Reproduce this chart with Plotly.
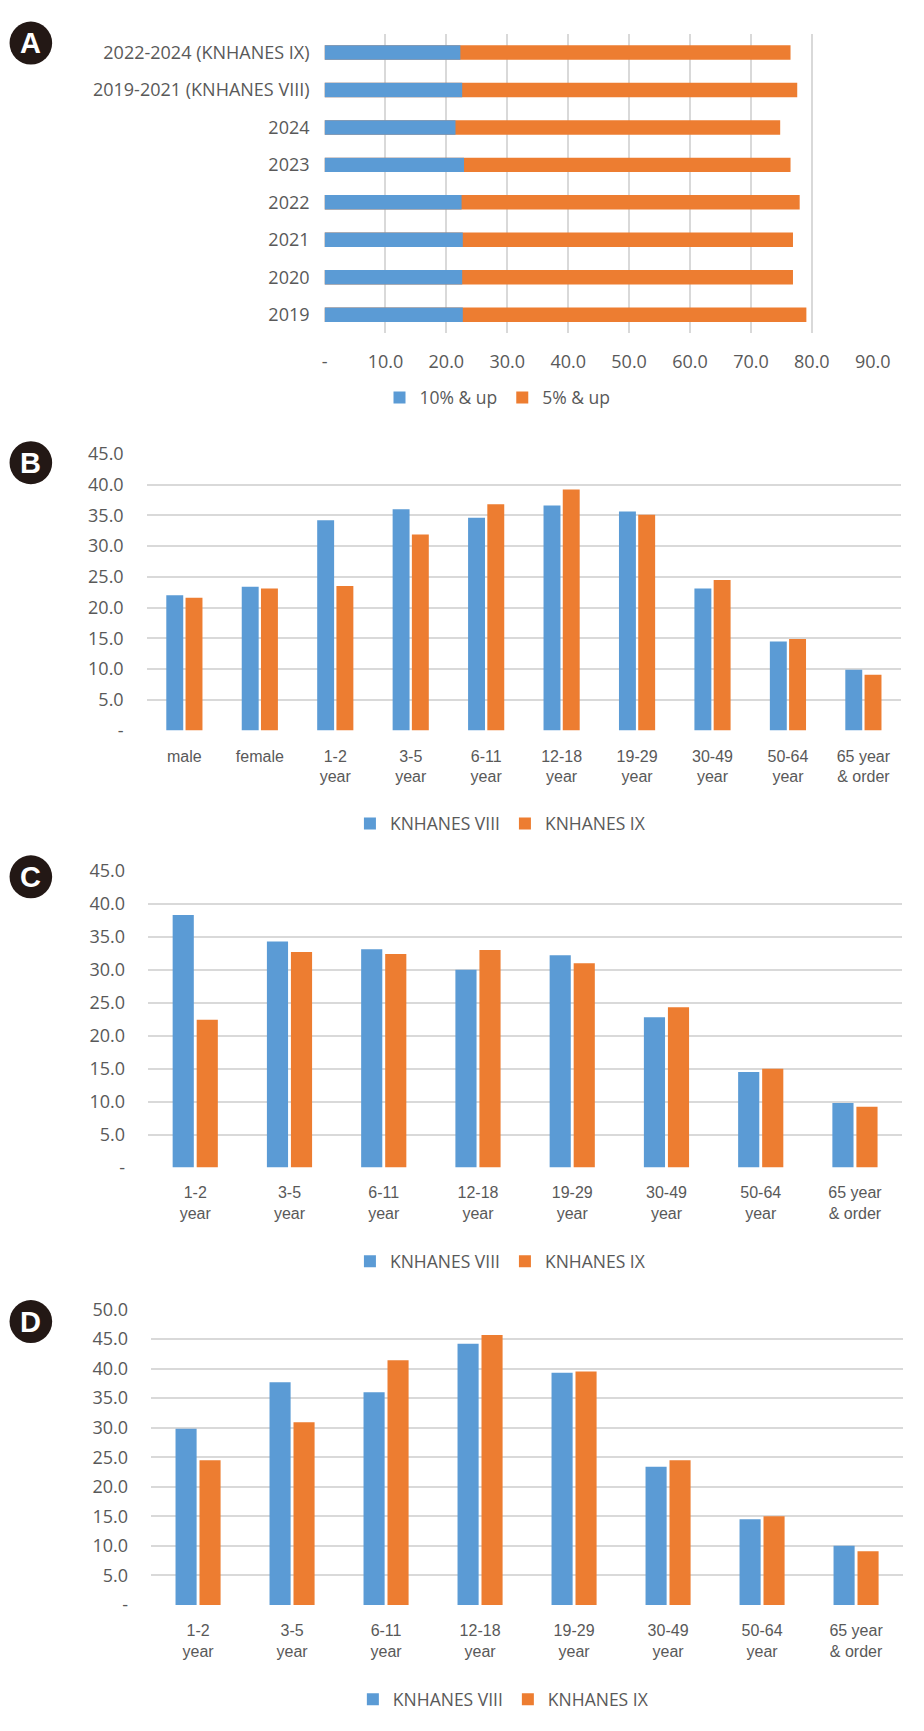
import plotly.graph_objects as go

W, H = 924, 1731
BLUE = "#5B9BD5"
ORANGE = "#ED7D31"
GRID = "#d9d9d9"
TXT = "#595959"
FONT = "Open Sans"
CATFONT = "Liberation Sans"

# ---------------- data ----------------
# Panel A
a_labels = ["2022-2024 (KNHANES IX)", "2019-2021 (KNHANES VIII)", "2024", "2023",
            "2022", "2021", "2020", "2019"]
a_10up = [22.3, 22.6, 21.5, 22.9, 22.5, 22.7, 22.6, 22.7]
a_5up = [76.5, 77.6, 74.8, 76.5, 78.0, 76.9, 76.9, 79.1]
a_ticks = [0, 10, 20, 30, 40, 50, 60, 70, 80, 90]
a_ticktext = ["-", "10.0", "20.0", "30.0", "40.0", "50.0", "60.0", "70.0", "80.0", "90.0"]

# Panel B
b_cats = ["male", "female", "1-2<br>year", "3-5<br>year", "6-11<br>year", "12-18<br>year",
          "19-29<br>year", "30-49<br>year", "50-64<br>year", "65 year<br>& order"]
b_viii = [22.0, 23.4, 34.2, 36.0, 34.6, 36.6, 35.6, 23.1, 14.5, 9.9]
b_ix = [21.6, 23.1, 23.5, 31.9, 36.8, 39.2, 35.1, 24.5, 14.9, 9.1]

# Panel C
c_cats = ["1-2<br>year", "3-5<br>year", "6-11<br>year", "12-18<br>year",
          "19-29<br>year", "30-49<br>year", "50-64<br>year", "65 year<br>& order"]
c_viii = [38.3, 34.3, 33.1, 30.0, 32.2, 22.8, 14.5, 9.8]
c_ix = [22.4, 32.7, 32.4, 33.0, 31.0, 24.3, 15.0, 9.2]

# Panel D
d_cats = ["1-2<br>year", "3-5<br>year", "6-11<br>year", "12-18<br>year",
          "19-29<br>year", "30-49<br>year", "50-64<br>year", "65 year<br>& order"]
d_viii = [29.8, 37.7, 36.0, 44.2, 39.3, 23.4, 14.5, 10.0]
d_ix = [24.5, 30.9, 41.4, 45.7, 39.5, 24.5, 15.0, 9.1]

y45_vals = [0, 5, 10, 15, 20, 25, 30, 35, 40, 45]
y45_text = ["-", "5.0", "10.0", "15.0", "20.0", "25.0", "30.0", "35.0", "40.0", "45.0"]
y50_vals = [0, 5, 10, 15, 20, 25, 30, 35, 40, 45, 50]
y50_text = ["-", "5.0", "10.0", "15.0", "20.0", "25.0", "30.0", "35.0", "40.0", "45.0", "50.0"]


def px_x(x):
    return x / W


def px_y(y):
    return 1 - y / H


fig = go.Figure()

# Panel A (overlaid horizontal bars)
fig.add_trace(go.Bar(y=a_labels, x=a_5up, orientation="h", name="5% & up",
                     marker=dict(color=ORANGE, line=dict(width=0)),
                     width=0.386, offset=-0.193, xaxis="x", yaxis="y",
                     legend="legend", legendrank=2))
fig.add_trace(go.Bar(y=a_labels, x=a_10up, orientation="h", name="10% & up",
                     marker=dict(color=BLUE, line=dict(width=0)),
                     width=0.386, offset=-0.193, xaxis="x", yaxis="y",
                     legend="legend", legendrank=1))

# Panels B, C, D
for cats, v8, v9, ax, lg in [(b_cats, b_viii, b_ix, "2", "legend2"),
                              (c_cats, c_viii, c_ix, "3", "legend3"),
                              (d_cats, d_viii, d_ix, "4", "legend4")]:
    fig.add_trace(go.Bar(x=cats, y=v8, name="KNHANES VIII",
                         marker=dict(color=BLUE, line=dict(width=0)),
                         xaxis="x" + ax, yaxis="y" + ax, legend=lg))
    fig.add_trace(go.Bar(x=cats, y=v9, name="KNHANES IX",
                         marker=dict(color=ORANGE, line=dict(width=0)),
                         xaxis="x" + ax, yaxis="y" + ax, legend=lg))

tickfont = dict(family=FONT, size=18, color=TXT)
catfont = dict(family=CATFONT, size=16, color=TXT)

layout = dict(
    width=W, height=H,
    margin=dict(l=0, r=0, t=0, b=0),
    paper_bgcolor="white", plot_bgcolor="white",
    barmode="group", bargap=0.49, bargroupgap=0.12,
    font=dict(family=FONT, color=TXT),
    # Panel A axes
    xaxis=dict(domain=[px_x(329), px_x(890)], anchor="y", range=[0, 90],
               tickvals=a_ticks, ticktext=a_ticktext, showgrid=True, gridcolor=GRID,
               gridwidth=1.5, zeroline=False, showline=False, tickfont=tickfont,
               ticks="", ticklabelstandoff=16, fixedrange=True),
    yaxis=dict(domain=[px_y(325), px_y(21)], anchor="x", type="category",
               categoryorder="array", categoryarray=a_labels, autorange="reversed",
               showgrid=False, zeroline=False, showline=False, tickfont=tickfont,
               ticks="", ticklabelstandoff=14),
    # Panel B
    xaxis2=dict(domain=[px_x(147), px_x(919)], anchor="y2", type="category",
                showgrid=False, zeroline=False, showline=False, tickfont=catfont,
                ticks="", ticklabelstandoff=14, tickangle=0),
    yaxis2=dict(domain=[px_y(727.7), px_y(447)], anchor="x2", range=[0, 45],
                tickvals=y45_vals, ticktext=y45_text, showgrid=True, gridcolor=GRID,
                gridwidth=1.5, zeroline=False, showline=False, tickfont=tickfont,
                ticks="", ticklabelstandoff=22),
    # Panel C
    xaxis3=dict(domain=[px_x(148.5), px_x(920)], anchor="y3", type="category",
                showgrid=False, zeroline=False, showline=False, tickfont=catfont,
                ticks="", ticklabelstandoff=14, tickangle=0),
    yaxis3=dict(domain=[px_y(1170.7), px_y(870)], anchor="x3", range=[0, 45],
                tickvals=y45_vals, ticktext=y45_text, showgrid=True, gridcolor=GRID,
                gridwidth=1.5, zeroline=False, showline=False, tickfont=tickfont,
                ticks="", ticklabelstandoff=22),
    # Panel D
    xaxis4=dict(domain=[px_x(151.5), px_x(921)], anchor="y4", type="category",
                showgrid=False, zeroline=False, showline=False, tickfont=catfont,
                ticks="", ticklabelstandoff=14, tickangle=0),
    yaxis4=dict(domain=[px_y(1614.3), px_y(1314.7)], anchor="x4", range=[0, 50],
                tickvals=y50_vals, ticktext=y50_text, showgrid=True, gridcolor=GRID,
                gridwidth=1.5, zeroline=False, showline=False, tickfont=tickfont,
                ticks="", ticklabelstandoff=22),
)

legfont = dict(family=FONT, size=17.5, color=TXT)
for name, xc, yc in [("legend", 506, 390), ("legend2", 509, 822),
                     ("legend3", 509, 1266), ("legend4", 512, 1710)]:
    layout[name] = dict(orientation="h", x=px_x(xc), y=px_y(yc), xanchor="center",
                        yanchor="middle", font=legfont, itemwidth=30,
                        bgcolor="rgba(0,0,0,0)", traceorder="normal",
                        itemclick=False, itemdoubleclick=False)

fig.update_layout(**layout)

# Panel letters
shapes = []
annotations = []
for letter, cy in [("A", 30.5), ("B", 456), ("C", 876), ("D", 1327)]:
    shapes.append(dict(type="circle", xref="paper", yref="paper",
                       x0=px_x(28.5 - 21.8), x1=px_x(28.5 + 21.8),
                       y0=px_y(cy + 21.8), y1=px_y(cy - 21.8),
                       fillcolor="#231815", line=dict(width=0)))
    annotations.append(dict(text="<b>" + letter + "</b>", xref="paper", yref="paper",
                            x=px_x(28.5), y=px_y(cy), xanchor="center", yanchor="middle",
                            showarrow=False,
                            font=dict(family="Liberation Sans", size=29, color="white")))
fig.update_layout(shapes=shapes, annotations=annotations)

fig.write_html("out.html")
